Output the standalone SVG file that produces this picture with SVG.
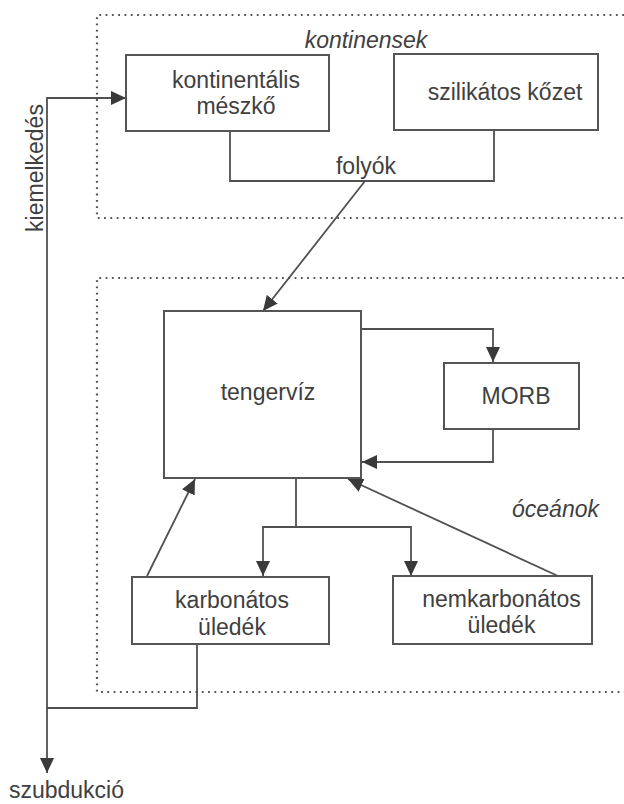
<svg xmlns="http://www.w3.org/2000/svg" width="624" height="804" viewBox="0 0 624 804">
<style>
.box{fill:#fff;stroke:#555;stroke-width:2}
.ln{fill:none;stroke:#505050;stroke-width:1.8}
.dot{fill:none;stroke:#555;stroke-width:2.2;stroke-dasharray:1.8 4.5}
text{font-family:"Liberation Sans",Arial,sans-serif;font-size:23px;fill:#404040;text-anchor:middle}
.it{font-style:italic}
</style>
<defs>
<marker id="ah" markerUnits="userSpaceOnUse" markerWidth="16" markerHeight="15" refX="15" refY="7" orient="auto">
<path d="M0,0 L15,7 L0,14 z" fill="#3a3a3a"/>
</marker>
</defs>
<rect width="624" height="804" fill="#fff"/>
<g id="regions">
<path class="dot" d="M624,15 H97 V218 H624"/>
<path class="dot" d="M624,278 H97 V692 H624"/>
<text class="it" x="366" y="47.5">kontinensek</text>
<text class="it" x="555.5" y="517">óceánok</text>
</g>
<g id="connectors">
<path class="ln" d="M230,131 V181 H494 V131"/>
<path class="ln" d="M365,181 L263,311" marker-end="url(#ah)"/>
<path class="ln" d="M361,329 H493 V362" marker-end="url(#ah)"/>
<path class="ln" d="M493,429 V462 H362" marker-end="url(#ah)"/>
<path class="ln" d="M296,478 V527 H263 V576" marker-end="url(#ah)"/>
<path class="ln" d="M296,527 H411 V576" marker-end="url(#ah)"/>
<path class="ln" d="M147,576 L195,479" marker-end="url(#ah)"/>
<path class="ln" d="M558,576 L348,479" marker-end="url(#ah)"/>
<path class="ln" d="M197,644 V708 H47 V773" marker-end="url(#ah)"/>
<path class="ln" d="M47,708 V98 H126" marker-end="url(#ah)"/>
<text x="366" y="174">folyók</text>
<text transform="translate(43,168) rotate(-90)">kiemelkedés</text>
<text x="66.5" y="798">szubdukció</text>
</g>
<g id="kontinentalis-meszko">
<rect class="box" x="126" y="55" width="203" height="76"/>
<text x="236" y="88">kontinentális</text>
<text x="236" y="114">mészkő</text>
</g>
<g id="szilikatos-kozet">
<rect class="box" x="394" y="54" width="204" height="76"/>
<text x="505" y="100">szilikátos kőzet</text>
</g>
<g id="tengerviz">
<rect class="box" x="164" y="311" width="197" height="167"/>
<text x="268" y="400">tengervíz</text>
</g>
<g id="morb">
<rect class="box" x="444" y="363" width="135" height="66"/>
<text x="516" y="404">MORB</text>
</g>
<g id="karbonatos-uledek">
<rect class="box" x="132" y="577" width="197" height="67"/>
<text x="232" y="608">karbonátos</text>
<text x="232" y="635">üledék</text>
</g>
<g id="nemkarbonatos-uledek">
<rect class="box" x="393" y="576" width="199" height="68"/>
<text x="501.5" y="607">nemkarbonátos</text>
<text x="501.5" y="633">üledék</text>
</g>
</svg>
